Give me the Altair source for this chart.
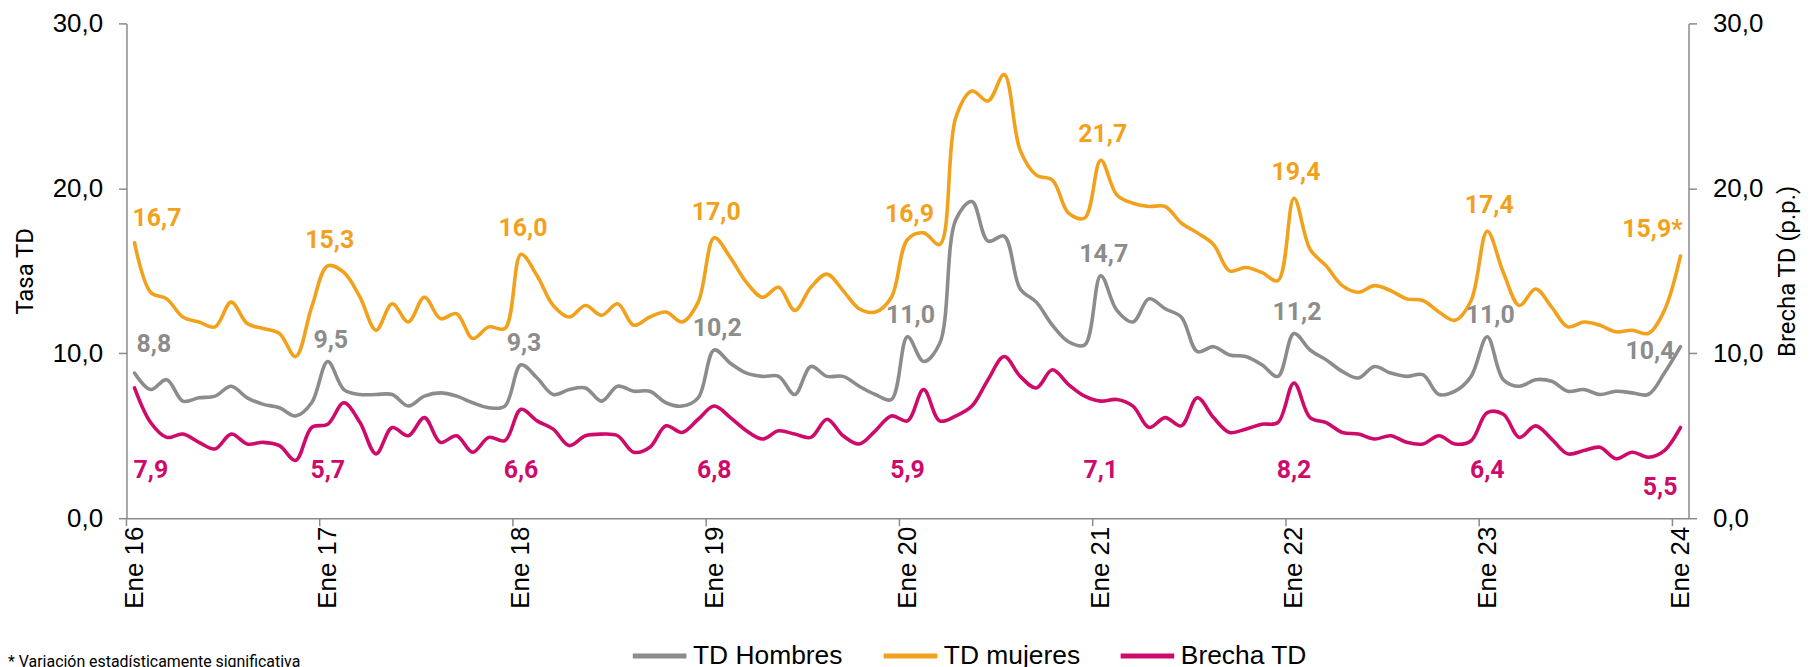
import altair as alt
import numpy as np
import pandas as pd

# ---------------- data (monthly, Ene 16 .. Ene 24) ----------------
mes_inicial = "Ene"
anio_inicial = 16
series = ["TD Hombres", "TD mujeres", "Brecha TD"]
colores = ["#8C8C8C", "#F2A11C", "#CE0A6A"]
nota = "* Variación estadísticamente significativa"
marca_significativa = "*"

hombres = [8.8, 7.8, 8.4, 7.1, 7.3, 7.4, 8.0, 7.3, 6.9, 6.7, 6.2, 7.0,
           9.5, 7.8, 7.5, 7.5, 7.5, 6.8, 7.4, 7.6, 7.4, 7.0, 6.7, 6.8,
           9.3, 8.5, 7.5, 7.8, 7.9, 7.1, 8.0, 7.7, 7.7, 7.0, 6.8, 7.3,
           10.2, 9.4, 8.8, 8.6, 8.6, 7.5, 9.2, 8.6, 8.6, 8.0, 7.5, 7.2,
           11.0, 9.5, 10.6, 18.1, 19.2, 16.8, 17.1, 13.9, 13.1, 11.7, 10.7, 10.5,
           14.7, 12.6, 11.9, 13.3, 12.7, 12.2, 10.1, 10.4, 9.9, 9.8, 9.3, 8.6,
           11.2, 10.2, 9.6, 8.9, 8.5, 9.2, 8.8, 8.6, 8.7, 7.5, 7.7, 8.6,
           11.0, 8.4, 8.0, 8.4, 8.3, 7.7, 7.8, 7.5, 7.7, 7.6, 7.5, 8.8,
           10.4]

mujeres = [16.7, 13.7, 13.3, 12.2, 11.9, 11.6, 13.1, 11.8, 11.5, 11.2, 9.8, 12.8,
           15.3, 14.9, 13.4, 11.4, 13.0, 11.9, 13.4, 12.1, 12.4, 10.9, 11.6, 11.5,
           16.0, 14.7, 12.9, 12.2, 12.9, 12.3, 13.0, 11.7, 12.2, 12.5, 11.9, 13.1,
           17.0, 15.8, 14.3, 13.4, 14.0, 12.6, 14.0, 14.8, 13.8, 12.7, 12.5, 13.4,
           16.9, 17.3, 16.6, 24.3, 25.9, 25.3, 26.9, 22.3, 20.8, 20.5, 18.5, 18.2,
           21.7, 19.6, 19.1, 18.9, 18.9, 17.9, 17.3, 16.6, 15.0, 15.2, 14.9, 14.4,
           19.4, 16.3, 15.3, 14.1, 13.7, 14.1, 13.8, 13.3, 13.2, 12.5, 12.0, 13.2,
           17.4, 14.9, 12.9, 13.9, 12.8, 11.6, 11.9, 11.7, 11.3, 11.4, 11.2, 12.6,
           15.9]

brecha = [7.9, 5.8, 4.9, 5.1, 4.6, 4.2, 5.1, 4.5, 4.6, 4.4, 3.5, 5.5,
          5.7, 7.0, 5.8, 3.9, 5.5, 5.0, 6.1, 4.6, 5.0, 4.0, 4.9, 4.7,
          6.6, 5.9, 5.4, 4.4, 5.0, 5.1, 5.0, 4.0, 4.3, 5.6, 5.2, 6.0,
          6.8, 6.1, 5.3, 4.8, 5.3, 5.1, 4.9, 6.0, 5.0, 4.5, 5.3, 6.2,
          5.9, 7.8, 5.9, 6.2, 6.8, 8.4, 9.8, 8.6, 7.9, 9.0, 8.1, 7.4,
          7.1, 7.2, 6.8, 5.5, 6.1, 5.6, 7.3, 6.1, 5.2, 5.4, 5.7, 5.8,
          8.2, 6.1, 5.8, 5.2, 5.1, 4.8, 5.0, 4.6, 4.5, 5.0, 4.5, 4.7,
          6.4, 6.3, 4.9, 5.6, 4.8, 3.9, 4.1, 4.3, 3.6, 4.0, 3.7, 4.1,
          5.5]

eje_valores = [0, 10, 20, 30]

# ---------------- tables ----------------
n = len(hombres)
rows = []
for i in range(n):
    for s, vals in zip(series, [hombres, mujeres, brecha]):
        rows.append({"i": i, "serie": s, "valor": vals[i]})
df = pd.DataFrame(rows)
df["etiqueta"] = df["valor"].map(lambda v: f"{v:.1f}".replace(".", ","))
df.loc[(df.serie == "TD mujeres") & (df.i == n - 1), "etiqueta"] += marca_significativa
df["pos"] = np.where(df.i == 0, "first", np.where(df.i == n - 1, "last", "mid"))
df_lab = df[df.i % 12 == 0]
df_ticks = pd.DataFrame({"b": [k - 0.5 for k in range(0, n + 1, 12)]})

# ---------------- style ----------------
W, H = 1569, 497
AX = "#8A8A8A"
F_AX = "Liberation Sans"
F_NAR = "Liberation Sans Narrow, Roboto, sans-serif"

xscale = alt.Scale(domain=[-0.5, n - 0.5], nice=False, zero=False)
yscale = alt.Scale(domain=[0, 30], nice=False)
x_axis = alt.Axis(values=list(range(0, n, 12)),
                  labelExpr=f"'{mes_inicial} ' + ({anio_inicial} + datum.value/12)",
                  labelAngle=-90, ticks=False, tickSize=0, grid=False, title=None,
                  domainColor=AX, domainWidth=1.5, labelFont=F_AX, labelFontSize=26,
                  labelColor="black", labelPadding=8)
ylab = "replace(format(datum.value, '.1f'), '.', ',')"
y_axis_left = alt.Axis(values=eje_valores, labelExpr=ylab, grid=False, title="Tasa TD",
                       orient="left", domainColor=AX, domainWidth=1.5, tickColor=AX,
                       tickWidth=1.5, tickSize=8, labelPadding=16, labelFont=F_AX,
                       labelFontSize=26, labelColor="black", titleFont=F_NAR,
                       titleFontSize=24, titleFontWeight="normal", titleColor="black",
                       titleX=-94, titleBaseline="alphabetic")
y_axis_right = alt.Axis(values=eje_valores, labelExpr=ylab, grid=False,
                        title="Brecha TD (p.p.)", orient="right", domainColor=AX,
                        domainWidth=1.5, tickColor=AX, tickWidth=1.5, tickSize=8,
                        labelPadding=16, labelFont=F_AX, labelFontSize=26,
                        labelColor="black", titleFont=F_NAR, titleFontSize=24,
                        titleFontWeight="normal", titleColor="black", titleAngle=270,
                        titleX=106, titleBaseline="alphabetic")

color = alt.Color("serie:N", scale=alt.Scale(domain=series, range=colores),
                  legend=alt.Legend(orient="none", legendX=506, legendY=606,
                                    direction="horizontal", title=None,
                                    symbolType="stroke", symbolStrokeWidth=5,
                                    symbolSize=2900, labelFont=F_AX, labelFontSize=26.5,
                                    labelColor="black", columnPadding=30, labelOffset=4,
                                    padding=0, labelLimit=400))

xq = alt.X("i:Q", scale=xscale, axis=x_axis)
yl = alt.Y("valor:Q", scale=yscale, axis=y_axis_left)
yr = alt.Y("valor:Q", scale=yscale, axis=y_axis_right)

line_left = alt.Chart(df[df.serie != "Brecha TD"]).mark_line(
    interpolate="catmull-rom", strokeWidth=3.6, strokeCap="round"
).encode(x=xq, y=yl, color=color, detail="serie:N")

ticks = alt.Chart(df_ticks).mark_rule(color=AX, strokeWidth=1.5).encode(
    x=alt.X("b:Q", scale=xscale, axis=x_axis), y=alt.value(H), y2=alt.value(H + 8))

foot = alt.Chart(pd.DataFrame({"t": [nota]})).mark_text(
    align="left", baseline="alphabetic", font=F_NAR, fontSize=16, color="black"
).encode(x=alt.value(-119), y=alt.value(646), text="t:N")

col_of = dict(zip(series, colores))
label_spec = {
    "TD mujeres": {"first": ("left", -2, -17, "alphabetic"),
                   "mid": ("center", 2, -18, "alphabetic"),
                   "last": ("right", 2, -19, "alphabetic")},
    "TD Hombres": {"first": ("left", 2, -21, "alphabetic"),
                   "mid": ("center", 3, -14, "alphabetic"),
                   "last": ("right", -6, 4, "middle")},
}
left_labels = []
for s, spec in label_spec.items():
    for pos, (al, dx, dy, bl) in spec.items():
        d = df_lab[(df_lab.serie == s) & (df_lab.pos == pos)]
        left_labels.append(alt.Chart(d).mark_text(
            align=al, dx=dx, dy=dy, baseline=bl, font=F_NAR, fontSize=25,
            fontWeight="bold", color=col_of[s]
        ).encode(x=xq, y=yl, text="etiqueta:N"))

left = alt.layer(line_left, ticks, foot, *left_labels)

line_right = alt.Chart(df[df.serie == "Brecha TD"]).mark_line(
    interpolate="catmull-rom", strokeWidth=3.6, strokeCap="round"
).encode(x=xq, y=yr, color=color)

right_labels = []
brecha_spec = {"first": ("left", -1, 0), "mid": ("center", 0, 0), "last": ("right", -3, 17)}
for pos, (al, dx, dy) in brecha_spec.items():
    d = df_lab[(df_lab.serie == "Brecha TD") & (df_lab.pos == pos)]
    right_labels.append(alt.Chart(d).mark_text(
        align=al, dx=dx, dy=dy, baseline="middle", font=F_NAR, fontSize=25,
        fontWeight="bold", color=col_of["Brecha TD"]
    ).encode(x=xq, y=alt.Y(datum=2.9, scale=yscale, axis=y_axis_right),
             text="etiqueta:N"))

right = alt.layer(line_right, *right_labels)

chart = alt.layer(left, right).resolve_scale(y="independent").properties(
    width=W, height=H,
    autosize=alt.AutoSizeParams(type="none"),
    padding={"left": 119, "top": 14, "right": 119, "bottom": 154},
).configure_view(stroke=None)

chart.save("out.html", embed_options={"renderer": "svg", "actions": False})
